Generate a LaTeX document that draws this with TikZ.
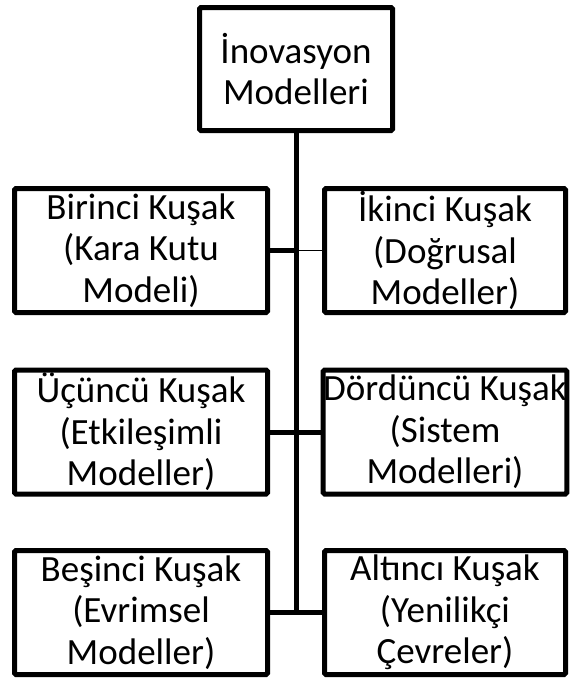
\documentclass[tikz,border=0pt]{standalone}
\usepackage{fontspec}
\setmainfont{Carlito}
\begin{document}
\begin{tikzpicture}[x=1pt,y=-1pt,
    every node/.style={draw,line width=5pt,rounded corners=1.5pt,align=center,inner sep=0pt,
        font=\fontsize{37}{41.5}\selectfont},
    leftbox/.style={minimum width=253pt,minimum height=124pt},
    rightbox/.style={minimum width=241pt,minimum height=124pt},
    trunk/.style={line width=5pt},
    branch/.style={line width=5pt},
    thinbranch/.style={line width=1pt}]
    \useasboundingbox (0,0) rectangle (572,681);
    \node[minimum width=193pt,minimum height=123pt] (top) at (296,69) {İnovasyon\\Modelleri};
    \node[leftbox] (b1) at (141,250.5) {Birinci Kuşak\\(Kara Kutu\\Modeli)};
    \node[rightbox] (b2) at (445,250.5) {İkinci Kuşak\\(Doğrusal\\Modeller)};
    \node[leftbox] (b3) at (141,432) {Üçüncü Kuşak\\(Etkileşimli\\Modeller)};
    \node[rightbox] (b4) at (445,432) {Dördüncü Kuşak\\(Sistem\\Modelleri)};
    \node[leftbox] (b5) at (141,612.5) {Beşinci Kuşak\\(Evrimsel\\Modeller)};
    \node[rightbox] (b6) at (445,612.5) {Altıncı Kuşak\\(Yenilikçi\\Çevreler)};
    \coordinate (end) at (top.south |- b5.east);
    \draw[trunk] (top.south) -- ([yshift=2.5pt]end);
    \draw[branch] (b1.east) -- (b1.east -| top.south);
    \draw[thinbranch] (b1.east -| top.south) -- (b2.west);
    \draw[branch] (b3.east) -- (b4.west);
    \draw[branch] (b5.east) -- (b6.west);
\end{tikzpicture}
\end{document}
